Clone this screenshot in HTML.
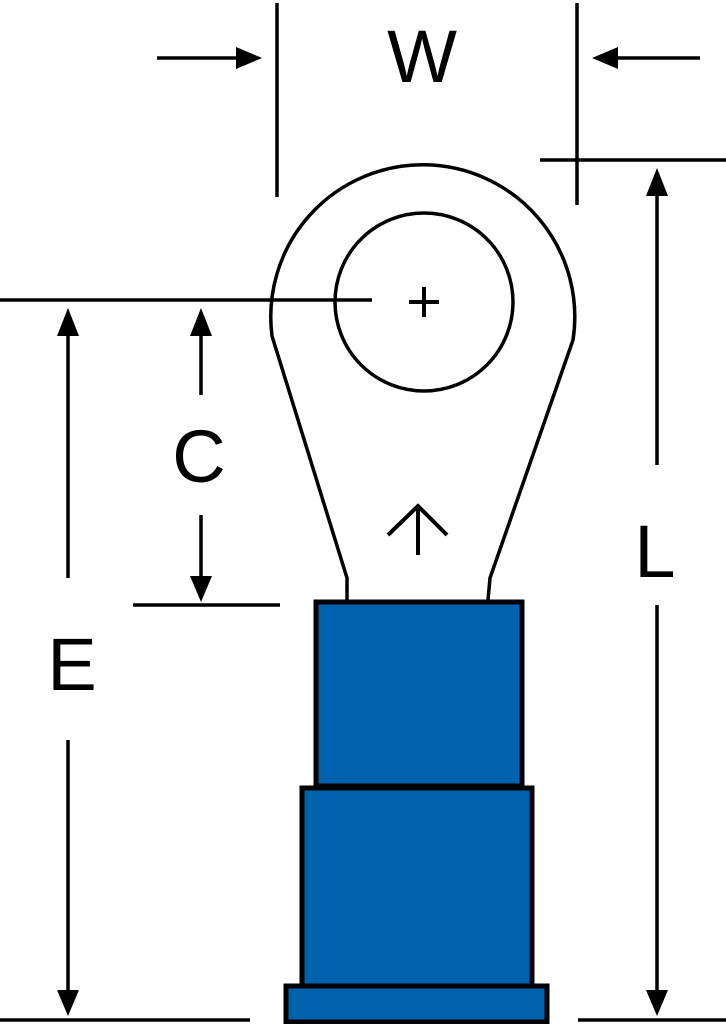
<!DOCTYPE html>
<html><head><style>html,body{margin:0;padding:0;background:#fff}svg{display:block}</style></head>
<body>
<svg width="726" height="1024" viewBox="0 0 726 1024" xmlns="http://www.w3.org/2000/svg">
<g stroke="#000" stroke-width="3.5" fill="none">
<line x1="277" y1="3" x2="277" y2="197"/>
<line x1="577" y1="3" x2="577" y2="205"/>
<line x1="157" y1="58" x2="240" y2="58"/>
<line x1="700" y1="58" x2="614" y2="58"/>
<line x1="540" y1="160" x2="726" y2="160"/>
<line x1="657" y1="190" x2="657" y2="465"/>
<line x1="657" y1="605" x2="657" y2="995"/>
<line x1="578" y1="1020" x2="726" y2="1020"/>
<line x1="0" y1="300" x2="372" y2="300"/>
<line x1="68" y1="330" x2="68" y2="578"/>
<line x1="68" y1="740" x2="68" y2="995"/>
<line x1="0" y1="1020" x2="250" y2="1020"/>
<line x1="201" y1="330" x2="201" y2="395"/>
<line x1="201" y1="515" x2="201" y2="580"/>
<line x1="133" y1="605" x2="280" y2="605"/>
<circle cx="424" cy="302" r="89"/>
<path d="M347,600 L347,578 L272,336 A152,152 0 1 1 573,340 L490,578 L488,600"/>
<line x1="424" y1="287" x2="424" y2="317" stroke-width="4"/>
<line x1="409" y1="302" x2="439" y2="302" stroke-width="4"/>
<line x1="418" y1="555" x2="418" y2="505" stroke-width="4"/>
<polyline points="388,535 418,506 447,535" stroke-width="4"/>
</g>
<g fill="#000">
<path d="M262,58 L236,47 L236,69 z"/>
<path d="M592,58 L618,47 L618,69 z"/>
<path d="M657,168 L646,196 L668,196 z"/>
<path d="M657,1016 L646,990 L668,990 z"/>
<path d="M68,308 L57,336 L79,336 z"/>
<path d="M68,1016 L57,990 L79,990 z"/>
<path d="M201,308 L190,336 L212,336 z"/>
<path d="M201,602 L190,576 L212,576 z"/>
</g>
<g fill="#0062ae" stroke="#000" stroke-width="5">
<rect x="316" y="602" width="206" height="184"/>
<rect x="302" y="788" width="230" height="198"/>
<rect x="286" y="986" width="261" height="36"/>
</g>
<g font-family="Liberation Sans, sans-serif" font-size="74" text-anchor="middle" fill="#000">
<text x="422" y="82">W</text>
<text x="655" y="577">L</text>
<text x="72" y="690">E</text>
<text x="199" y="482">C</text>
</g>
</svg>
</body></html>
